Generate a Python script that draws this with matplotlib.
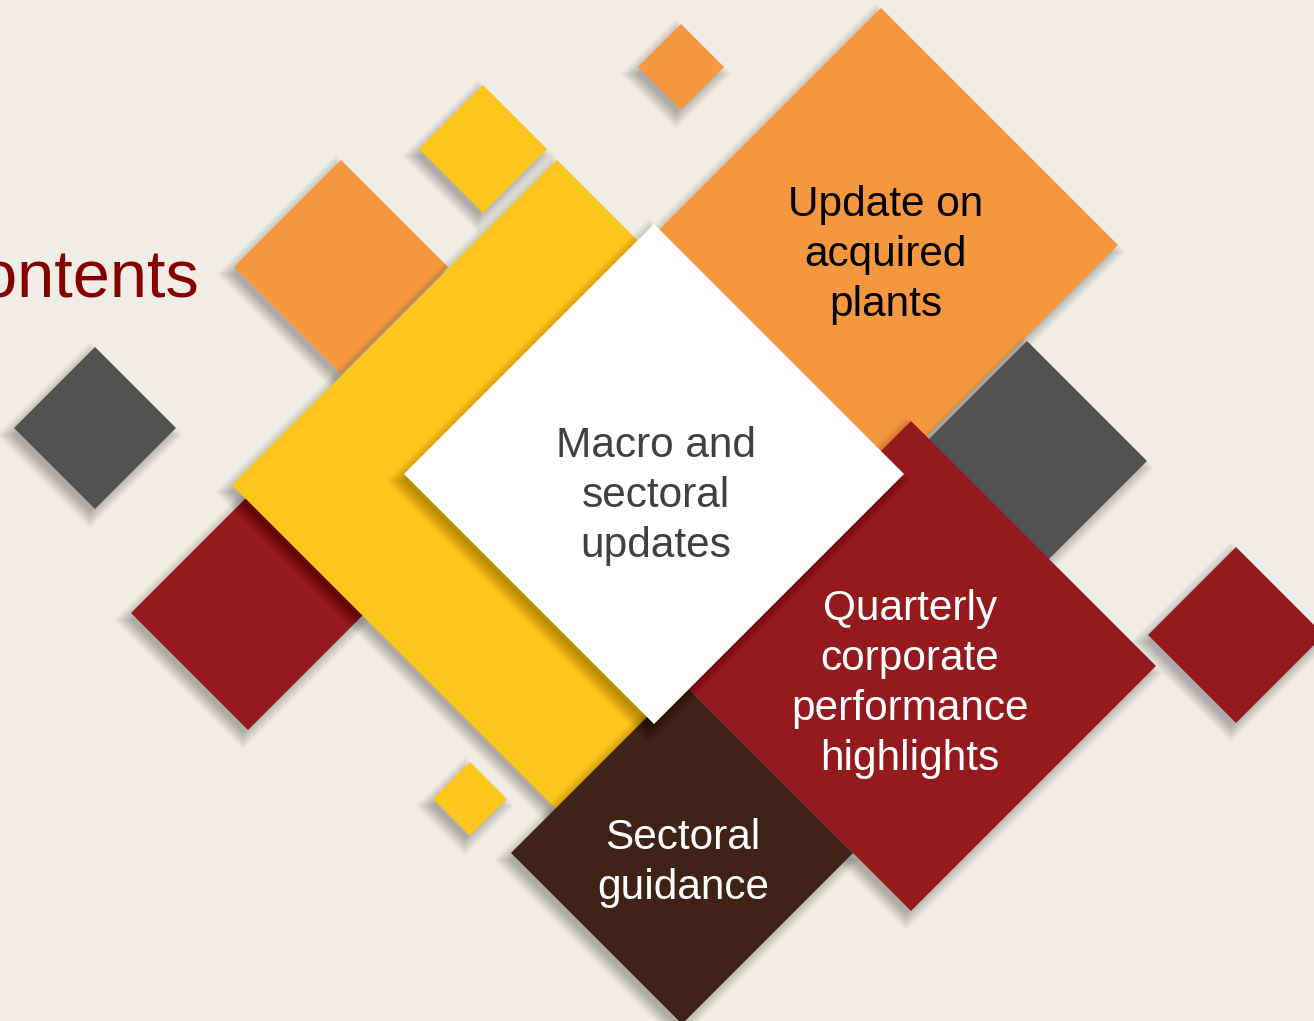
import matplotlib
matplotlib.use("Agg")
import matplotlib.pyplot as plt
from matplotlib.patches import Polygon

# ---- data ----
# diamond centers (px), half-diagonals (px) and fill colours, listed bottom to top
shape_x = [681, 881, 1027, 483, 341, 95, 248, 470, 557, 911, 682, 654, 1236]
shape_y = [67, 245, 461, 149, 267, 428, 613, 799, 485, 666, 853, 474, 635]
shape_r = [43, 237, 120, 64, 107, 81, 117, 37, 325, 245, 171, 250, 88]
shape_colors = ["#F5973F", "#F5973F", "#525252", "#FEC51C", "#F5973F", "#525252",
                "#951A1E", "#FEC51C", "#FEC51C", "#951A1E", "#3E2316", "#FFFFFF",
                "#951A1E"]

label_lines = [["Update on", "acquired", "plants"],
               ["Macro and", "sectoral", "updates"],
               ["Quarterly", "corporate", "performance", "highlights"],
               ["Sectoral", "guidance"]]
label_x = [886, 656, 910, 683]
label_first_baseline = [216, 457, 620, 849]
label_colors = ["#000000", "#404040", "#FFFFFF", "#FFFFFF"]
title_text = "Contents"

BG = "#F0EDE6"
W, H = 1314, 1021

fig = plt.figure(figsize=(W / 100, H / 100), dpi=100)
fig.patch.set_facecolor(BG)
ax = fig.add_axes([0, 0, 1, 1])
ax.set_xlim(0, W)
ax.set_ylim(H, 0)
ax.axis("off")
ax.set_facecolor(BG)


def diamond(cx, cy, r):
    return [(cx, cy - r), (cx + r, cy), (cx, cy + r), (cx - r, cy)]


z = 1
for cx, cy, r, col in zip(shape_x, shape_y, shape_r, shape_colors):
    # soft, diffuse drop shadow towards lower-left
    for k in range(22):
        ax.add_patch(Polygon(diamond(cx - 5, cy + 7, r + k * 0.85 - 5), closed=True,
                             facecolor="black", edgecolor="none", alpha=0.011,
                             zorder=z))
    z += 1
    ax.add_patch(Polygon(diamond(cx, cy, r), closed=True, facecolor=col,
                         edgecolor="none", zorder=z, antialiased=True))
    z += 1

FS = 30.5
LINE = 50
for lines, x, y0, col in zip(label_lines, label_x, label_first_baseline, label_colors):
    for i, t in enumerate(lines):
        ax.text(x, y0 + i * LINE, t, ha="center", va="baseline", color=col,
                fontsize=FS, family="Liberation Sans", zorder=100)

ax.text(199, 297, title_text, ha="right", va="baseline", color="#870000",
        fontsize=48, family="Liberation Sans", zorder=100)

fig.savefig("out.png", dpi=100, facecolor=BG)
